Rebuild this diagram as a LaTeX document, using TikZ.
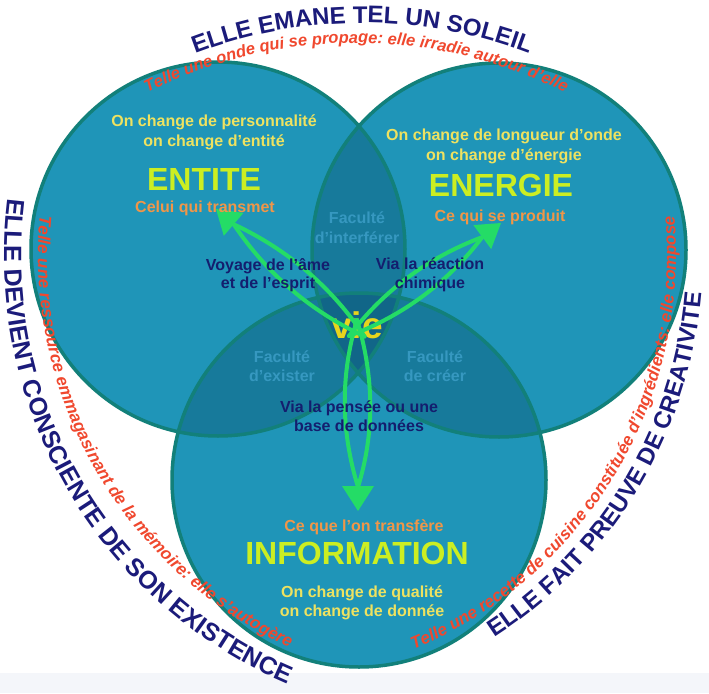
\documentclass[tikz,border=0pt]{standalone}
\usepackage{fontspec}
\setmainfont{Liberation Sans}
\usetikzlibrary{decorations.text}
\definecolor{basec}{RGB}{31,149,184}
\definecolor{lensc}{RGB}{23,122,155}
\definecolor{corec}{RGB}{17,102,136}
\definecolor{rimc}{RGB}{18,128,122}
\definecolor{stripc}{RGB}{244,246,250}
\definecolor{navyc}{RGB}{27,27,122}
\definecolor{redc}{RGB}{240,72,46}
\definecolor{paleyel}{RGB}{238,226,96}
\definecolor{limec}{RGB}{204,238,34}
\definecolor{orngc}{RGB}{240,150,72}
\definecolor{inknavy}{RGB}{20,30,110}
\definecolor{fadec}{RGB}{54,152,192}
\definecolor{viec}{RGB}{232,212,28}
\definecolor{grnc}{RGB}{36,220,102}
\newcommand\navyF{\bfseries\fontsize{24}{28}\selectfont}
\newcommand\navyL{\bfseries\fontsize{25}{28}\selectfont}
\newcommand\redF{\bfseries\itshape\fontsize{16.5}{20}\selectfont}
\newcommand\redS{\bfseries\itshape\fontsize{17}{20}\selectfont}
\tikzset{
  lbl/.style={font=\bfseries\fontsize{16}{20}\selectfont, align=center, inner sep=0pt},
  lbls/.style={font=\bfseries\fontsize{16}{18.5}\selectfont, align=center, inner sep=0pt},
  big/.style={font=\bfseries\fontsize{32}{36}\selectfont, inner sep=0pt},
  rim/.style={draw=rimc, line width=3.5pt},
  gstroke/.style={draw=grnc, line width=4pt, line cap=round},
  ghead/.style={fill=grnc},
  navytext/.style={decorate, decoration={text along path, text align=center, text color=navyc, text={|\navyF|#1}}},
  navyleft/.style={decorate, decoration={text along path, text align=center, text color=navyc, text={|\navyL|#1}}},
  redtext/.style={decorate, decoration={text along path, text align=center, text color=redc, text={|\redF|#1}}},
  redside/.style={decorate, decoration={text along path, text align=center, text color=redc, text={|\redS|#1}}}
}
\begin{document}
\begin{tikzpicture}[x=1pt,y=-1pt]
\useasboundingbox (0,0) rectangle (709,693);
\fill[white] (0,0) rectangle (709,693);
\fill[stripc] (0,673) rectangle (709,693);
% circles
\coordinate (cL) at (218,249);
\coordinate (cR) at (499,250);
\coordinate (cB) at (359,480);
\fill[basec] (cL) circle[radius=187pt];
\fill[basec] (cR) circle[radius=187pt];
\fill[basec] (cB) circle[radius=187pt];
\begin{scope}
  \clip (cL) circle[radius=187pt];
  \fill[lensc] (cR) circle[radius=187pt];
  \fill[lensc] (cB) circle[radius=187pt];
\end{scope}
\begin{scope}
  \clip (cR) circle[radius=187pt];
  \fill[lensc] (cB) circle[radius=187pt];
\end{scope}
\begin{scope}
  \clip (cL) circle[radius=187pt];
  \clip (cR) circle[radius=187pt];
  \fill[corec] (cB) circle[radius=187pt];
\end{scope}
\draw[rim] (cL) circle[radius=187pt];
\draw[rim] (cR) circle[radius=187pt];
\draw[rim] (cB) circle[radius=187pt];
% curved texts
\path[navytext={ELLE EMANE TEL UN SOLEIL}] (362,492) ++(-125:469) arc[start angle=-125, end angle=-55, radius=469];
\path[redtext={Telle une onde qui se propage: elle irradie autour d'elle}] (356,505) ++(-128:462) arc[start angle=-128, end angle=-52, radius=462];
\path[navyleft={ELLE DEVIENT CONSCIENTE DE SON EXISTENCE}] (470,255) ++(200:466) arc[start angle=200, end angle=100, radius=466];
\path[redside={Telle une ressource emmagasinant de la mémoire: elle s'autogère}] (470,255) ++(200:432) arc[start angle=200, end angle=100, radius=432];
\path[navytext={ELLE FAIT PREUVE DE CREATIVITE}] (248,255) ++(81:455) arc[start angle=81, end angle=-19, radius=455];
\path[redside={Telle une recette de cuisine constituée d'ingrédients: elle compose}] (248,255) ++(81:428) arc[start angle=81, end angle=-19, radius=428];
% faded faculty labels
\node[lbl, text=fadec] (fInt) at (357,228) {Faculté\\d'interférer};
\node[lbls, text=fadec] (fExi) at (282,366) {Faculté\\d'exister};
\node[lbls, text=fadec] (fCre) at (435,366) {Faculté\\de créer};
% vie
\node[font=\bfseries\fontsize{37}{40}\selectfont, text=viec, inner sep=0pt] (vie) at (357,325) {vie};
% arrows
\coordinate (sE) at (364.6,336.5);
\coordinate (bE) at (233.7,224.3);
\draw[gstroke] (sE) .. controls (331.4,286.9) and (287.7,249.5) .. (bE);
\draw[gstroke] (sE) .. controls (310.6,311.3) and (266.9,273.9) .. (bE);
\fill[ghead] (216,209) -- (243.5,212.9) -- (223.8,235.8) -- cycle;
\coordinate (sN) at (349,336);
\coordinate (bN) at (482.3,237.1);
\draw[gstroke] (sN) .. controls (402.9,315.8) and (447.4,282.9) .. (bN);
\draw[gstroke] (sN) .. controls (383.9,290.2) and (428.4,257.3) .. (bN);
\fill[ghead] (501,223) -- (491.2,249.1) -- (473.4,225.1) -- cycle;
\coordinate (sI) at (357,320);
\coordinate (bI) at (358,487);
\draw[gstroke] (sI) .. controls (340,376) and (341,432) .. (bI);
\draw[gstroke] (sI) .. controls (374,376) and (375,432) .. (bI);
\fill[ghead] (358,511) -- (342,486) -- (374,486) -- cycle;
% ENTITE block
\node[lbl, text=paleyel] (entA) at (214,132) {On change de personnalité\\on change d'entité};
\node[big, text=limec] (ent) at (204,179) {ENTITE};
\node[lbl, text=orngc] (entB) at (205,208) {Celui qui transmet};
% ENERGIE block
\node[lbl, text=paleyel] (eneA) at (504,146) {On change de longueur d'onde\\on change d'énergie};
\node[big, text=limec] (ene) at (501,185) {ENERGIE};
\node[lbl, text=orngc] (eneB) at (500,217) {Ce qui se produit};
% INFORMATION block
\node[lbl, text=orngc] (infB) at (364,527) {Ce que l'on transfère};
\node[big, text=limec] (inf) at (357,553) {INFORMATION};
\node[lbls, text=paleyel] (infA) at (362,603) {On change de qualité\\on change de donnée};
% path labels
\node[lbls, text=inknavy] (pE) at (268,275) {Voyage de l'âme\\et de l'esprit};
\node[lbls, text=inknavy] (pN) at (430,275) {Via la réaction\\chimique};
\node[lbls, text=inknavy] (pI) at (359,416) {Via la pensée ou une\\base de données};
\end{tikzpicture}
\end{document}
